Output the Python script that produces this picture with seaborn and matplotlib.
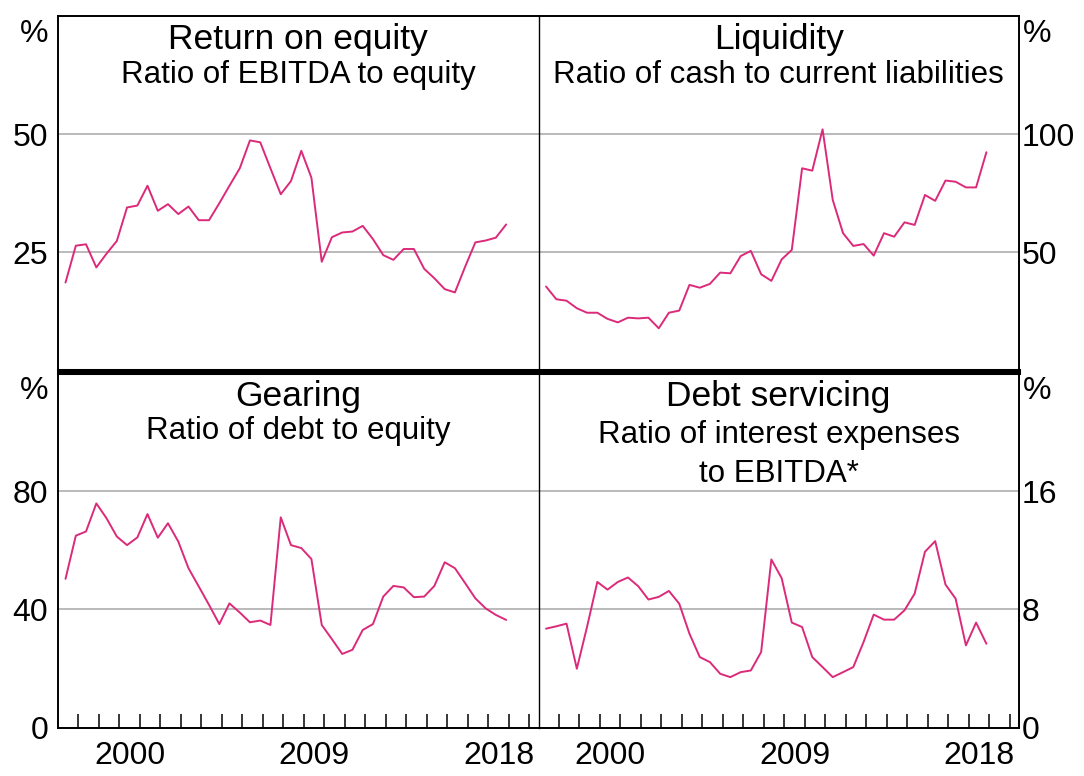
import numpy as np
import pandas as pd
import matplotlib
matplotlib.use('Agg')
import matplotlib.pyplot as plt
import seaborn as sns

# half-yearly observations, May 1997 to Nov 2018
dates = pd.date_range('1997-05-15', periods=44, freq=pd.DateOffset(months=6))

# Return on equity - ratio of EBITDA to equity (%)
roe = [18.6, 26.4, 26.7, 21.8, 24.7, 27.4, 34.5, 34.9, 39.1, 33.8, 35.2,
       33.1, 34.7, 31.8, 31.8, 35.4, 39.1, 42.8, 48.7, 48.3, 42.8, 37.3,
       40.1, 46.5, 40.8, 23.0, 28.2, 29.2, 29.4, 30.6, 27.8, 24.4, 23.4,
       25.7, 25.7, 21.5, 19.5, 17.2, 16.5, 22.0, 27.1, 27.5, 28.1, 30.9]

# Liquidity - ratio of cash to current liabilities (%)
liquidity = [35.5, 30.1, 29.5, 26.3, 24.4, 24.4, 21.8, 20.3, 22.3, 22.0, 22.3,
             17.8, 24.4, 25.3, 36.2, 35.0, 36.6, 41.4, 41.1, 48.4, 50.6, 40.7,
             37.9, 47.0, 51.0, 85.6, 84.6, 102.1, 72.2, 58.1, 52.7, 53.5, 48.6,
             58.1, 56.6, 62.7, 61.6, 74.3, 71.8, 80.4, 79.9, 77.5, 77.5, 92.4]

# Gearing - ratio of debt to equity (%)
gearing = [50.3, 64.9, 66.3, 75.8, 70.8, 64.6, 61.7, 64.3, 72.2, 64.2, 69.1,
           62.9, 53.9, 47.7, 41.5, 35.0, 42.0, 38.9, 35.6, 36.2, 34.7, 71.1,
           61.7, 60.7, 57.0, 34.7, 29.9, 24.9, 26.3, 33.0, 35.0, 44.3, 47.9,
           47.4, 44.1, 44.3, 47.9, 55.9, 53.9, 48.8, 43.7, 40.3, 38.1, 36.4]

# Debt servicing - ratio of interest expenses to EBITDA (%)
debt_serv = [6.69, 6.85, 7.03, 3.98, 6.80, 9.85, 9.33, 9.85, 10.15, 9.56, 8.66,
             8.84, 9.24, 8.38, 6.35, 4.77, 4.43, 3.64, 3.41, 3.75, 3.86, 5.11,
             11.37, 10.10, 7.10, 6.80, 4.77, 4.09, 3.41, 3.75, 4.09, 5.79, 7.64,
             7.30, 7.30, 7.93, 9.06, 11.89, 12.61, 9.67, 8.72, 5.56, 7.10, 5.67]

year_labels = ['2000', '2009', '2018']

sns.set_theme(style='white')
plt.rcParams['font.family'] = ['Liberation Sans', 'DejaVu Sans']
plt.rcParams['text.color'] = 'black'
plt.rcParams['xtick.color'] = 'black'
plt.rcParams['ytick.color'] = 'black'

line_col = '#dc2a7a'
grid_col = '#b4b4b4'
px = 0.72  # points per pixel at dpi 100
tick_fs = 23

df = pd.DataFrame({
    'year': dates.year + (dates.dayofyear - 1) / 365.25,
    'roe': roe, 'liquidity': liquidity, 'gearing': gearing, 'debt': debt_serv,
})

fig = plt.figure(figsize=(10.84, 7.76), dpi=100)
L, M, R = 0.0535, 0.4968, 0.9398
T1, B1 = 0.979, 0.5228
T2, B2 = 0.5197, 0.0624

panels = [
    # col, title, subtitle lines, ymax, yticks, side, row, rect
    ('roe', 'Return on equity', ['Ratio of EBITDA to equity'], 75, [25, 50], 'left', 'top',
     [L, B1, M - L, T1 - B1]),
    ('liquidity', 'Liquidity', ['Ratio of cash to current liabilities'], 150, [50, 100], 'right', 'top',
     [M, B1, R - M, T1 - B1]),
    ('gearing', 'Gearing', ['Ratio of debt to equity'], 120, [0, 40, 80], 'left', 'bottom',
     [L, B2, M - L, T2 - B2]),
    ('debt', 'Debt servicing', ['Ratio of interest expenses', 'to EBITDA*'], 24, [0, 8, 16], 'right', 'bottom',
     [M, B2, R - M, T2 - B2]),
]

for col, title, subs, ymax, yticks, side, row, rect in panels:
    ax = fig.add_axes(rect)
    sns.lineplot(data=df, x='year', y=col, ax=ax, color=line_col, lw=1.4)
    ax.set_xlim(1997, 2020.45)
    ax.set_ylim(0, ymax)
    ax.set_xlabel('')
    ax.set_ylabel('')

    ax.set_yticks(yticks)
    ax.set_yticklabels([str(v) for v in yticks])
    ax.yaxis.grid(True, color=grid_col, lw=1.3)
    ax.xaxis.grid(False)
    ax.set_axisbelow(True)
    if side == 'left':
        ax.yaxis.tick_left()
        ax.tick_params(axis='y', length=0, pad=7, labelsize=tick_fs)
    else:
        ax.yaxis.tick_right()
        ax.tick_params(axis='y', length=0, pad=2, labelsize=tick_fs)

    if row == 'bottom':
        ax.set_xticks(range(1998, 2021))
        ax.set_xticklabels([])
        ax.set_xticks([int(y) + 0.5 for y in year_labels], minor=True)
        ax.set_xticklabels(year_labels, minor=True)
        ax.tick_params(axis='x', which='major', direction='in', length=10, width=1.1,
                       bottom=True)
        ax.tick_params(axis='x', which='minor', length=0, pad=10, labelsize=tick_fs, bottom=True)
    else:
        ax.set_xticks([])

    for s in ax.spines.values():
        s.set_color('black')
        s.set_linewidth(1.4)
        s.set_zorder(5)
    if side == 'left':
        ax.spines['right'].set_visible(False)
    else:
        ax.spines['left'].set_linewidth(1.0)
    if row == 'top':
        ax.spines['bottom'].set_linewidth(2.2)
    else:
        ax.spines['top'].set_linewidth(2.2)

    # unit label
    if side == 'left':
        ax.annotate('%', xy=(0, 1), xycoords='axes fraction', xytext=(-7, -18 * px),
                    textcoords='offset points', ha='right', va='center', fontsize=23)
    else:
        ax.annotate('%', xy=(1, 1), xycoords='axes fraction', xytext=(3, -18 * px),
                    textcoords='offset points', ha='left', va='center', fontsize=23)

    ax.annotate(title, xy=(0.5, 1), xycoords='axes fraction', xytext=(0, -33 * px),
                textcoords='offset points', ha='center', va='baseline', fontsize=25.5)
    base = 66.5 if len(subs) == 1 else 70
    for i, s in enumerate(subs):
        ax.annotate(s, xy=(0.5, 1), xycoords='axes fraction', xytext=(0, -(base + 39 * i) * px),
                    textcoords='offset points', ha='center', va='baseline', fontsize=22.5)

fig.savefig('out.png', dpi=100)
